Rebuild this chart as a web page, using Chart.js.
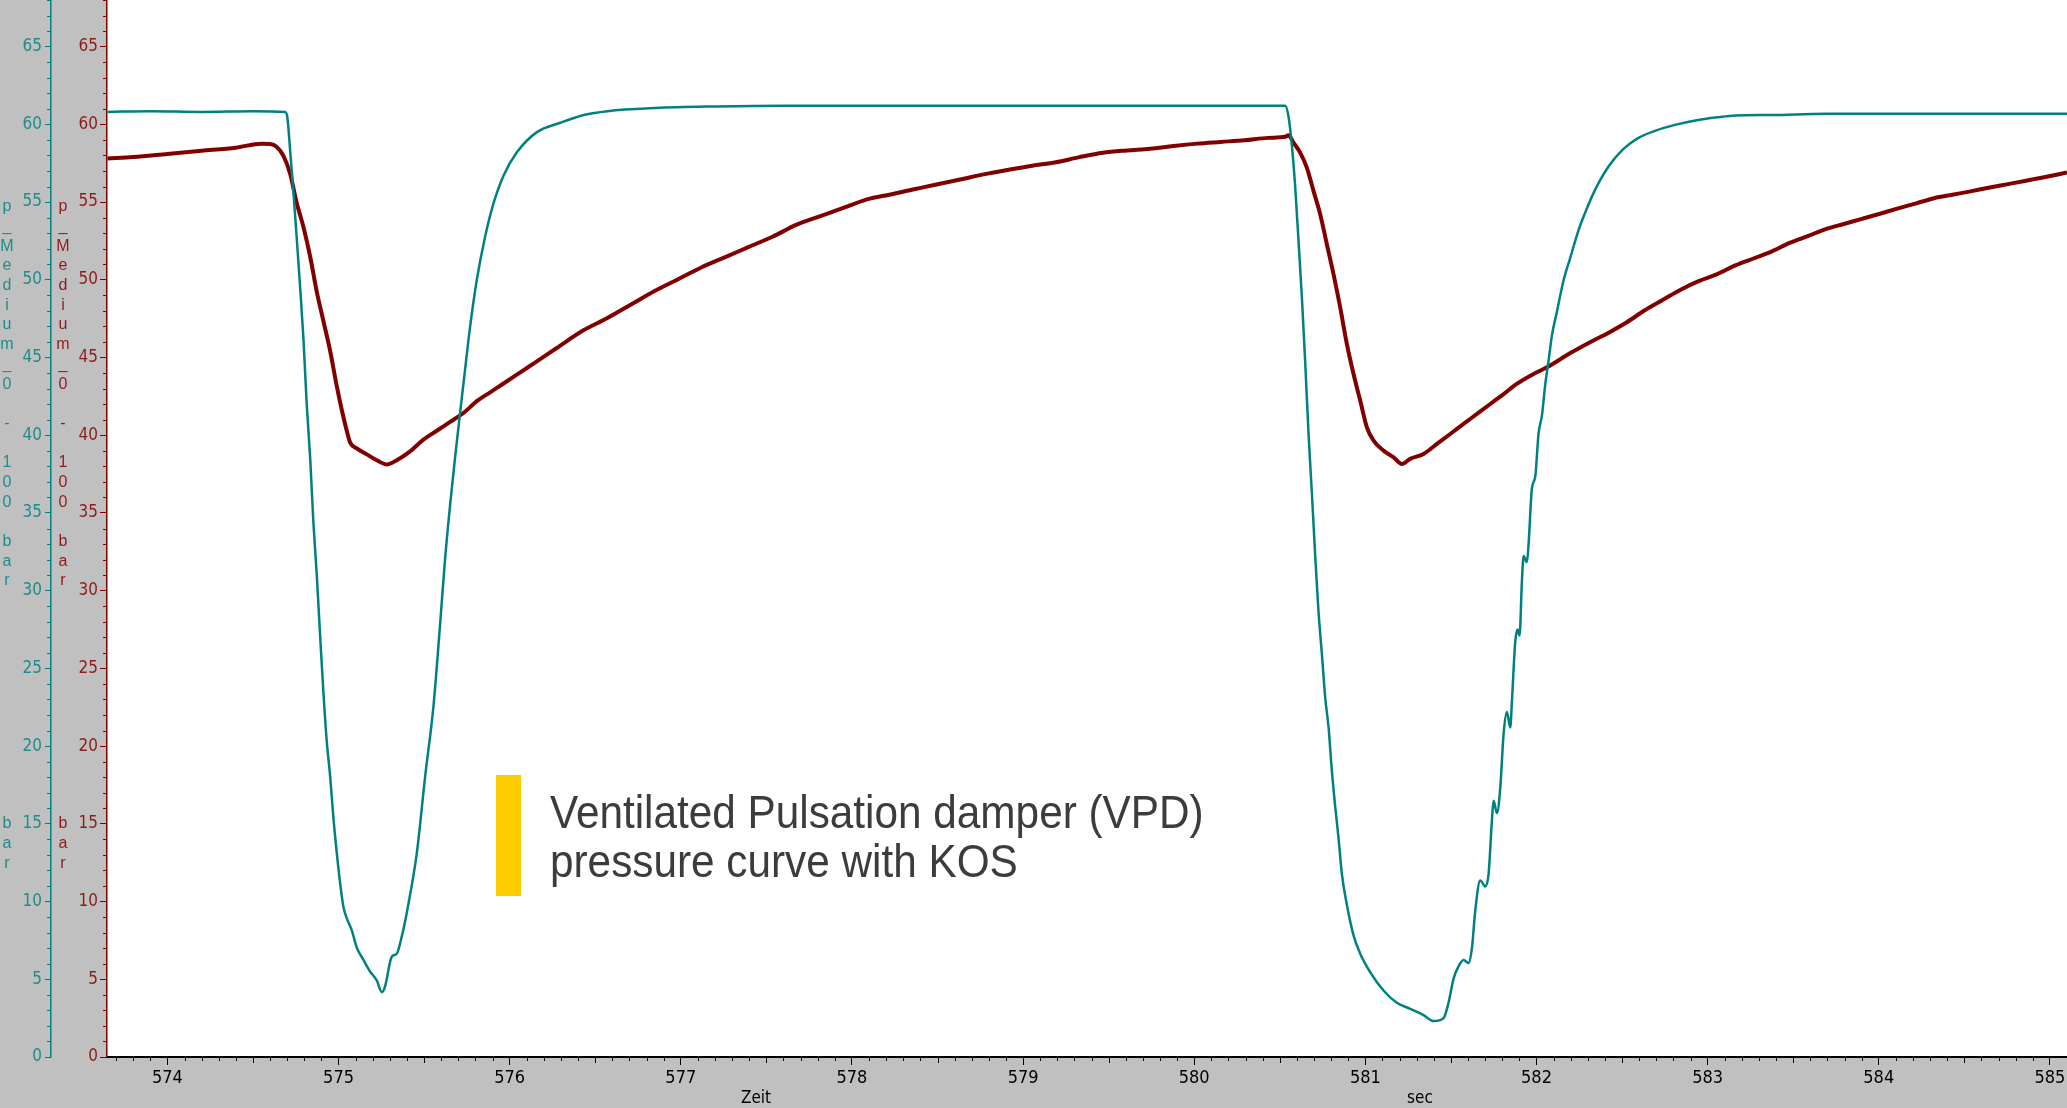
<!DOCTYPE html>
<html><head><meta charset="utf-8">
<script src="https://cdn.jsdelivr.net/npm/chart.js@4/dist/chart.umd.min.js"></script>
<style>html,body{margin:0;padding:0;background:#c0c0c0;overflow:hidden}canvas{display:block}</style>
</head><body>
<canvas id="c" width="2067" height="1108"></canvas>
<script>
// ---- data ----
const tealTime = [573.65,573.9,574.2,574.5,574.688,574.701,574.717,574.736,574.756,574.775,574.795,574.814,574.834,574.853,574.873,574.892,574.912,574.931,574.951,574.970,574.990,575.009,575.028,575.048,575.077,575.107,575.145,575.184,575.223,575.253,575.272,575.311,575.340,575.370,575.399,575.457,575.506,575.555,575.594,575.623,575.652,575.681,575.710,575.740,575.769,575.808,575.857,575.905,575.964,576.042,576.159,576.295,576.433,576.571,576.85,577.2,577.6,578.0,578.5,579.0,579.5,580.0,580.3,580.532,580.551,580.571,580.590,580.610,580.629,580.649,580.668,580.688,580.707,580.726,580.746,580.765,580.785,580.804,580.824,580.843,580.863,580.892,580.931,580.970,581.028,581.106,581.184,581.262,581.340,581.399,581.457,581.486,581.516,581.545,581.574,581.603,581.623,581.642,581.671,581.701,581.720,581.740,581.749,581.769,581.788,581.808,581.827,581.847,581.856,581.876,581.890,581.901,581.915,581.925,581.944,581.954,581.973,581.993,582.012,582.032,582.051,582.071,582.090,582.120,582.158,582.197,582.246,582.295,582.343,582.422,582.507,582.591,582.697,582.803,582.929,583.056,583.162,583.373,583.690,584.113,584.536,585.1];
const tealValue = [60.8,60.85,60.8,60.85,60.8,60.44,58.35,55.69,52.64,49.60,46.18,42.00,38.58,34.39,30.97,27.17,23.37,20.33,18.04,15.38,13.10,11.20,9.68,8.92,8.16,7.02,6.26,5.50,4.93,4.17,4.55,6.45,6.64,7.78,9.30,13.10,18.04,22.61,27.93,32.11,35.53,38.58,41.43,44.28,47.0,50.0,52.8,54.9,56.7,58.2,59.5,60.1,60.6,60.85,61.05,61.15,61.2,61.2,61.2,61.2,61.2,61.2,61.2,61.2,60.5,58.6,56.0,52.4,48.9,44.6,40.1,36.17,32.23,28.69,25.93,23.17,21.20,18.45,16.09,14.12,11.76,9.79,7.82,6.64,5.46,4.28,3.49,3.10,2.70,2.31,2.50,3.49,5.06,5.85,6.24,6.05,7.03,9.39,11.36,10.97,11.76,15.30,16.48,15.69,17.27,20.81,22.19,21.20,22.78,26.72,27.50,27.11,30.65,32.23,31.83,33.02,36.56,37.35,40.10,41.28,43.25,44.83,46.40,47.98,49.95,51.4,53.2,54.6,55.8,57.3,58.4,59.1,59.6,59.95,60.25,60.45,60.57,60.6,60.68,60.68,60.68,60.68];
const redTime = [573.65,573.8,574.0,574.2,574.4,574.55,574.600,574.639,574.678,574.717,574.756,574.795,574.834,574.873,574.912,574.951,574.990,575.019,575.048,575.068,575.107,575.165,575.223,575.282,575.340,575.418,575.496,575.574,575.652,575.730,575.808,575.886,575.964,576.042,576.120,576.198,576.275,576.431,576.571,576.709,576.847,576.984,577.122,577.260,577.398,577.536,577.674,577.812,577.950,578.088,578.226,578.363,578.501,578.639,578.777,578.915,579.053,579.191,579.329,579.467,579.605,579.742,579.880,580.018,580.156,580.294,580.432,580.532,580.551,580.580,580.619,580.658,580.697,580.736,580.775,580.814,580.853,580.892,580.931,580.970,581.009,581.048,581.106,581.165,581.213,581.262,581.340,581.418,581.496,581.574,581.652,581.730,581.808,581.885,581.983,582.061,582.2,582.316,582.422,582.528,582.633,582.739,582.845,582.951,583.056,583.162,583.268,583.373,583.479,583.585,583.690,583.796,583.902,584.007,584.113,584.219,584.324,584.430,584.536,584.641,584.747,584.853,584.959,585.1];
const redValue = [57.8,57.9,58.1,58.3,58.5,58.75,58.73,58.54,57.97,56.83,54.93,53.40,51.50,49.22,47.32,45.42,43.14,41.62,40.29,39.53,39.15,38.77,38.39,38.12,38.39,38.96,39.72,40.29,40.86,41.43,42.19,42.76,43.33,43.90,44.47,45.04,45.61,46.75,47.54,48.41,49.28,50.04,50.81,51.46,52.12,52.77,53.53,54.08,54.62,55.17,55.49,55.82,56.15,56.47,56.80,57.08,57.34,57.56,57.89,58.17,58.32,58.43,58.61,58.76,58.87,58.98,59.13,59.2,59.3,58.83,58.18,57.22,55.72,54.22,52.29,50.36,48.22,45.87,43.94,42.23,40.51,39.65,39.01,38.58,38.15,38.48,38.80,39.44,40.08,40.73,41.37,42.01,42.65,43.30,43.94,44.37,45.3,46.0,46.60,47.27,48.04,48.71,49.38,49.93,50.37,50.93,51.37,51.81,52.37,52.81,53.26,53.59,53.92,54.25,54.59,54.92,55.25,55.47,55.69,55.92,56.14,56.36,56.58,56.9];
const xTickValues = [574,575,576,577,578,579,580,581,582,583,584,585];
const yTickValues = [0,5,10,15,20,25,30,35,40,45,50,55,60,65];
const xRange = [573.647, 585.1];
const yRange = [0, 68];
const axisTitle = "p_Medium_0 - 100 bar";
const unitTitle = "bar";
const xTitles = ["Zeit", "sec"];
const noteLines = ["Ventilated Pulsation damper (VPD)", "pressure curve with KOS"];

// ---- styles ----
const TEAL = '#008080', RED = '#800000';
const TEAL_TXT = '#1f8c8c', RED_TXT = '#8c1c1c';
const NARROW = "'Liberation Sans Narrow','DejaVu Sans Condensed','Liberation Sans',sans-serif";

const deco = {
  id: 'deco',
  beforeDraw(chart) {
    const {ctx, chartArea: a} = chart;
    ctx.save();
    ctx.fillStyle = '#c0c0c0';
    ctx.fillRect(0, 0, chart.width, chart.height);
    ctx.fillStyle = '#ffffff';
    ctx.fillRect(a.left, a.top, a.right - a.left, a.bottom - a.top);
    ctx.restore();
  },
  afterDraw(chart) {
    const {ctx, chartArea: a, scales} = chart;
    ctx.save();
    // minor y ticks
    [[scales.yT, TEAL], [scales.yR, RED]].forEach(([s, col]) => {
      ctx.strokeStyle = col; ctx.lineWidth = 1;
      for (let v = yRange[0]; v <= yRange[1]; v++) {
        if (v % 5 === 0) continue;
        const y = Math.round(s.getPixelForValue(v)) + 0.5;
        ctx.beginPath(); ctx.moveTo(s.right - 4, y); ctx.lineTo(s.right, y); ctx.stroke();
      }
    });
    // minor x ticks
    const sx = scales.x;
    ctx.strokeStyle = '#000'; ctx.lineWidth = 1;
    for (let k = Math.ceil(xRange[0] * 10); k <= Math.floor(xRange[1] * 10); k++) {
      if (k % 10 === 0) continue;
      const x = Math.round(sx.getPixelForValue(k / 10)) + 0.5;
      const len = (k % 5 === 0) ? 6 : 4;
      ctx.beginPath(); ctx.moveTo(x, a.bottom); ctx.lineTo(x, a.bottom + len); ctx.stroke();
    }
    // vertical stacked axis titles
    ctx.font = "16px 'Liberation Sans', sans-serif";
    ctx.textAlign = 'center'; ctx.textBaseline = 'middle';
    [[7, TEAL_TXT], [63, RED_TXT]].forEach(([x, col]) => {
      ctx.fillStyle = col;
      for (let i = 0; i < axisTitle.length; i++) ctx.fillText(axisTitle[i], x, 207 + i * 19.68);
      for (let i = 0; i < unitTitle.length; i++) ctx.fillText(unitTitle[i], x, 824 + i * 19.6);
    });
    // x axis titles
    ctx.fillStyle = '#000';
    ctx.font = "17px " + NARROW;
    ctx.fillText(xTitles[0], 756, 1099);
    ctx.fillText(xTitles[1], 1420, 1099);
    // annotation
    ctx.fillStyle = '#ffcc00';
    ctx.fillRect(496, 775, 25, 121);
    ctx.translate(550, 828);
    ctx.scale(0.9, 1);
    ctx.fillStyle = '#3c3c3c';
    ctx.textAlign = 'left'; ctx.textBaseline = 'alphabetic';
    ctx.font = "47px 'Liberation Sans', Arial, sans-serif";
    ctx.fillText(noteLines[0], 0, 0);
    ctx.fillText(noteLines[1], 0, 49);
    ctx.restore();
  }
};

function yAxis(col, txt, weight, width, tickLen, pad) {
  return {
    type: 'linear', position: 'left', weight: weight,
    min: yRange[0], max: yRange[1],
    afterBuildTicks: s => { s.ticks = yTickValues.map(v => ({value: v})); },
    afterFit: s => { s.width = width; s.paddingTop = 0; s.paddingBottom = 0; },
    ticks: {color: txt, font: {family: NARROW, size: 17}, padding: pad},
    grid: {drawOnChartArea: false, drawTicks: true, tickLength: tickLen, color: col, lineWidth: 1},
    border: {display: true, color: col, width: 1.5}
  };
}

new Chart(document.getElementById('c').getContext('2d'), {
  type: 'line',
  data: {
    datasets: [
      {label: 'p Medium (teal)', data: tealTime.map((t, i) => ({x: t, y: tealValue[i]})),
       borderColor: TEAL, borderWidth: 2.5, pointRadius: 0, yAxisID: 'yT', cubicInterpolationMode: 'monotone', fill: false},
      {label: 'p Medium (red)', data: redTime.map((t, i) => ({x: t, y: redValue[i]})),
       borderColor: RED, borderWidth: 4, pointRadius: 0, yAxisID: 'yR', cubicInterpolationMode: 'monotone', fill: false}
    ]
  },
  options: {
    responsive: false, animation: false, devicePixelRatio: 1,
    layout: {padding: 0},
    plugins: {legend: {display: false}, tooltip: {enabled: false}},
    scales: {
      x: {
        type: 'linear', position: 'bottom', min: xRange[0], max: xRange[1],
        afterBuildTicks: s => { s.ticks = xTickValues.map(v => ({value: v})); },
        afterFit: s => { s.height = 51; s.paddingLeft = 0; s.paddingRight = 0; },
        ticks: {color: '#000', font: {family: NARROW, size: 18}, padding: 3, maxRotation: 0, autoSkip: false},
        grid: {drawOnChartArea: false, drawTicks: true, tickLength: 8, color: '#000', lineWidth: 1},
        border: {display: true, color: '#000', width: 2}
      },
      yR: yAxis(RED, RED_TXT, 0, 56, 7, 2),
      yT: yAxis(TEAL, TEAL_TXT, 1, 51, 6, 3)
    }
  },
  plugins: [deco]
});
</script>
</body></html>
